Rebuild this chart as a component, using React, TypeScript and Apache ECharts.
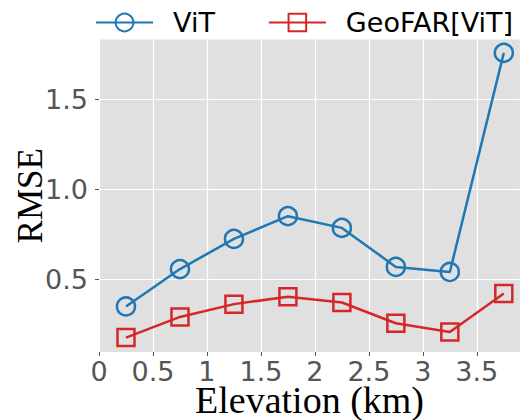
import React, { useEffect, useRef } from "react";
import * as echarts from "echarts";

const elevation = [0.25, 0.75, 1.25, 1.75, 2.25, 2.75, 3.25, 3.75];
const vitRmse = [0.352, 0.559, 0.726, 0.852, 0.787, 0.571, 0.543, 1.756];
const geofarRmse = [0.18, 0.294, 0.365, 0.406, 0.374, 0.259, 0.211, 0.424];
const yTicks = [0.5, 1.0, 1.5];
const seriesNames = ["ViT", "GeoFAR[ViT]"];

const BLUE = "#1f77b4";
const RED = "#d62728";

export default function App() {
  const ref = useRef<HTMLDivElement>(null);
  useEffect(() => {
    if (!ref.current) return;
    const chart = echarts.init(ref.current, undefined, { renderer: "svg" });
    const tickLabel = { color: "#555555", fontFamily: "DejaVu Sans", fontSize: 27 };
    chart.setOption({
      animation: false,
      backgroundColor: "#ffffff",
      legend: {
        orient: "horizontal",
        left: 95,
        top: 9,
        padding: 0,
        width: 460,
        itemWidth: 57,
        itemHeight: 22,
        itemGap: 53,
        textStyle: { color: "#000", fontFamily: "DejaVu Sans", fontSize: 27, padding: [0, 0, 0, 15] },
        data: seriesNames,
      },
      grid: {
        left: 99,
        right: 7,
        top: 39.5,
        bottom: 68,
        outerBoundsMode: "none",
        containLabel: false,
        show: true,
        backgroundColor: "#e0e0e0",
        borderWidth: 0,
      },
      xAxis: {
        type: "value",
        min: 0,
        max: 3.9,
        interval: 0.5,
        name: "Elevation (km)",
        nameLocation: "middle",
        nameGap: 29,
        nameMoveOverlap: false,
        nameTextStyle: { color: "#000", fontFamily: "Liberation Serif", fontSize: 38 },
        axisLine: { show: false },
        axisTick: { show: true, length: 4, lineStyle: { color: "#555", width: 1 } },
        axisLabel: {
          ...tickLabel,
          margin: 6,
          showMaxLabel: false,
          formatter: (v: number) => String(v),
        },
        splitLine: { show: true, lineStyle: { color: "#ffffff", width: 1.2 } },
      },
      yAxis: {
        type: "value",
        min: 0.1,
        max: 1.83,
        name: "RMSE",
        nameLocation: "middle",
        nameGap: 51,
        nameMoveOverlap: false,
        nameTextStyle: { color: "#000", fontFamily: "Liberation Serif", fontSize: 35 },
        axisLine: { show: false },
        axisTick: { show: true, length: 4, customValues: yTicks, lineStyle: { color: "#555", width: 1 } },
        axisLabel: {
          ...tickLabel,
          margin: 11,
          customValues: yTicks,
          formatter: (v: number) => v.toFixed(1),
        },
        splitLine: { show: true, lineStyle: { color: "#ffffff", width: 1.2 } },
      },
      series: [
        {
          name: seriesNames[0],
          type: "line",
          data: elevation.map((x, i) => [x, vitRmse[i]]),
          symbol: "circle",
          symbolSize: 18,
          lineStyle: { color: BLUE, width: 2.5 },
          itemStyle: { color: "rgba(0,0,0,0)", borderColor: BLUE, borderWidth: 2.5 },
          z: 3,
        },
        {
          name: seriesNames[1],
          type: "line",
          data: elevation.map((x, i) => [x, geofarRmse[i]]),
          symbol: "rect",
          symbolSize: 17,
          lineStyle: { color: RED, width: 2.5 },
          itemStyle: { color: "rgba(0,0,0,0)", borderColor: RED, borderWidth: 2.5 },
          z: 3,
        },
      ],
    });
    return () => chart.dispose();
  }, []);
  return <div ref={ref} style={{ width: 527, height: 420, position: "absolute", left: 0, top: 0 }} />;
}
